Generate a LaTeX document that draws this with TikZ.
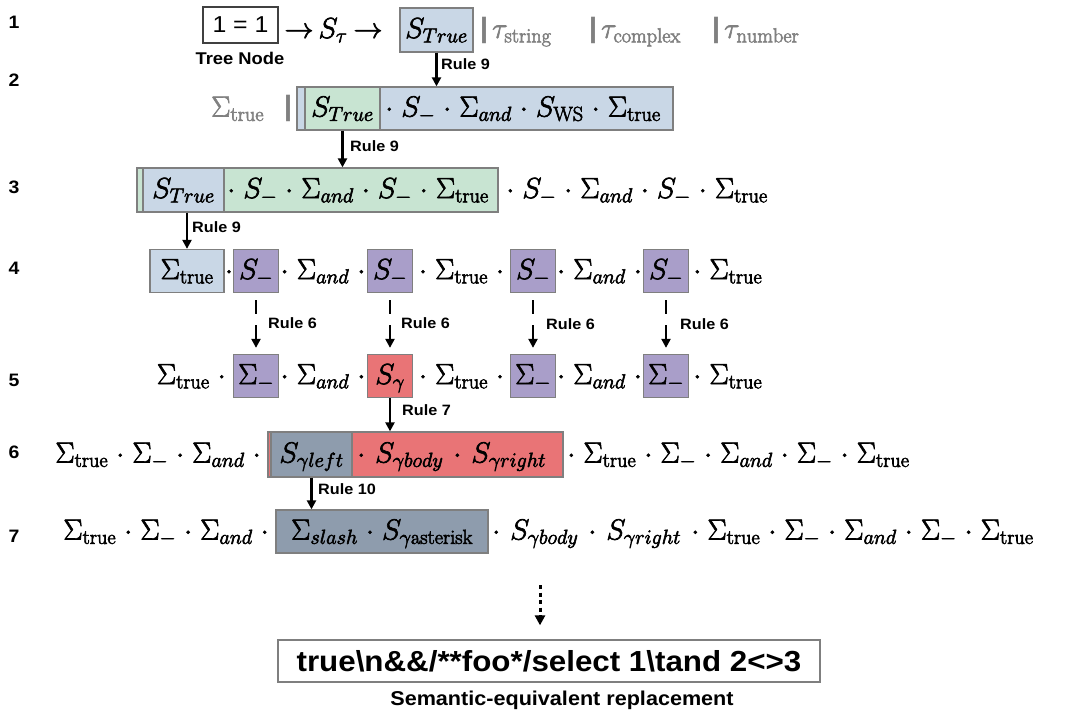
\documentclass[tikz,border=0pt]{standalone}
\usepackage{fix-cm}
\usepackage{fontspec}
\newfontfamily\lab[FakeStretch=1.08]{Liberation Sans}
\usetikzlibrary{arrows.meta}
\definecolor{cblue}{HTML}{C9D7E6}
\definecolor{cgreen}{HTML}{C8E4D2}
\definecolor{cpurple}{HTML}{A99EC9}
\definecolor{cred}{HTML}{E97476}
\definecolor{cslate}{HTML}{8E9CAD}
\definecolor{cborder}{HTML}{7F7F7F}
\definecolor{cgraytext}{HTML}{808080}
\newcommand\M{\fontsize{29}{32}\selectfont\medmuskip=5mu plus 2mu minus 4mu}
\newcommand\MW{\fontsize{29}{32}\selectfont\medmuskip=6.2mu plus 2mu minus 4mu}
\tikzset{
  mt/.style={inner sep=0pt, text height=20pt, text depth=4pt, font=\M,
    execute at begin node=\special{pdf:literal direct 2 Tr 0.6 w},
    execute at end node=\special{pdf:literal direct 0 Tr}},
  wide/.style={font=\MW},
  bx/.style={mt, draw=cborder, line width=1.3pt},
  rownum/.style={inner sep=0pt, font=\lab\bfseries\fontsize{18}{20}\selectfont},
  rulelbl/.style={inner sep=0pt, anchor=west, font=\lab\bfseries\fontsize{15}{17}\selectfont},
  gbar/.style={inner sep=0pt, text=cgraytext, font=\lab\bfseries\fontsize{28}{30}\selectfont},
  arr/.style={line width=2.2pt, -{Triangle[width=9pt,length=9pt]}},
  darr/.style={arr, dash pattern=on 14pt off 11pt, shorten <=7pt, shorten >=6pt},
  dotarr/.style={line width=3pt, dash pattern=on 4pt off 3.5pt, -{Triangle[width=10pt,length=10pt]}, shorten >=14pt},
}
\begin{document}
\begin{tikzpicture}[x=1pt,y=-1pt]
\useasboundingbox (0,0) rectangle (1066,720);

% row numbers
\foreach \n/\yy in {1/22,2/80,3/187,4/268,5/380,6/452,7/536}
  \node[rownum] (num\n) at (14,\yy) {\n};

% ---------- row 1 ----------
\node[draw=black!75, line width=1.3pt, fill=white, minimum width=75pt, minimum height=36pt, inner sep=0pt,
      font=\lab\fontsize{23}{26}\selectfont] (eq) at (240.5,25) {1 = 1};
\node[inner sep=0pt, font=\lab\bfseries\fontsize{17}{19}\selectfont] (tn) at (240,58) {Tree Node};
\node[mt] (a1) at (299,30) {$\rightarrow$};
\node[mt] (st) at (333,30) {$S_\tau$};
\node[mt] (a2) at (368,30) {$\rightarrow$};
\node[bx, fill=cblue, minimum width=73pt, minimum height=44pt] (b1) at (436.5,30) {$S_{True}$};
\node[gbar] (g11) at (484,30) {|};
\node[mt, text=cgraytext, anchor=west] (ts) at (492,30) {$\tau_{\mathrm{string}}$};
\node[gbar] (g12) at (593,30) {|};
\node[mt, text=cgraytext, anchor=west] (tc) at (601,30) {$\tau_{\mathrm{complex}}$};
\node[gbar] (g13) at (716,30) {|};
\node[mt, text=cgraytext, anchor=west] (tnum) at (724,30) {$\tau_{\mathrm{number}}$};

% ---------- row 2 ----------
\node[mt, text=cgraytext, anchor=west] (s2) at (211,108.5) {$\Sigma_{\mathrm{true}}$};
\node[gbar] (g2) at (288,108.5) {|};
\node[bx, fill=cblue, minimum width=376pt, minimum height=43pt] (o2) at (485,108.5) {};
\node[bx, fill=cgreen, minimum width=75pt, minimum height=43pt] (i2) at (342.5,108.5) {$S_{True}$};
\node[mt, anchor=west] (t2) at (377,108.5) {${}\cdot S_{-} \cdot \Sigma_{and} \cdot S_{\mathrm{WS}} \cdot \Sigma_{\mathrm{true}}$};

% ---------- row 3 ----------
\node[bx, fill=cgreen, minimum width=361pt, minimum height=44pt] (o3) at (317.5,190) {};
\node[bx, fill=cblue, minimum width=81pt, minimum height=44pt] (i3) at (183.5,190) {$S_{True}$};
\node[mt, anchor=west] (t3a) at (219,190) {${}\cdot S_{-} \cdot \Sigma_{and} \cdot S_{-} \cdot \Sigma_{\mathrm{true}}$};
\node[mt, anchor=west] (t3b) at (498,190) {${}\cdot S_{-} \cdot \Sigma_{and} \cdot S_{-} \cdot \Sigma_{\mathrm{true}}$};

% ---------- row 4 ----------
\node[bx, fill=cblue, minimum width=74pt, minimum height=43pt] (b4) at (187,271) {$\Sigma_{\mathrm{true}}$};
\node[mt] (d41) at (229,271) {$\cdot$};
\node[bx, fill=cpurple, minimum width=45pt, minimum height=43pt] (p41) at (256,271) {$S_{-}$};
\node[mt] (d42) at (323,271) {${}\cdot \Sigma_{and} \cdot{}$};
\node[bx, fill=cpurple, minimum width=45pt, minimum height=43pt] (p42) at (390,271) {$S_{-}$};
\node[mt] (d43) at (461.5,271) {${}\cdot \Sigma_{\mathrm{true}} \cdot{}$};
\node[bx, fill=cpurple, minimum width=45pt, minimum height=43pt] (p43) at (533,271) {$S_{-}$};
\node[mt] (d44) at (599.5,271) {${}\cdot \Sigma_{and} \cdot{}$};
\node[bx, fill=cpurple, minimum width=45pt, minimum height=43pt] (p44) at (666,271) {$S_{-}$};
\node[mt, anchor=west] (d45) at (685,271) {${}\cdot \Sigma_{\mathrm{true}}$};

% ---------- row 5 ----------
\node[mt, anchor=east] (s5) at (234,376) {$\Sigma_{\mathrm{true}} \cdot{}$};
\node[bx, fill=cpurple, minimum width=45pt, minimum height=43pt] (p51) at (256,376) {$\Sigma_{-}$};
\node[mt] (d52) at (323,376) {${}\cdot \Sigma_{and} \cdot{}$};
\node[bx, fill=cred, minimum width=45pt, minimum height=43pt] (r5) at (390,376) {$S_{\gamma}$};
\node[mt] (d53) at (461.5,376) {${}\cdot \Sigma_{\mathrm{true}} \cdot{}$};
\node[bx, fill=cpurple, minimum width=45pt, minimum height=43pt] (p53) at (533,376) {$\Sigma_{-}$};
\node[mt] (d54) at (599.5,376) {${}\cdot \Sigma_{and} \cdot{}$};
\node[bx, fill=cpurple, minimum width=45pt, minimum height=43pt] (p54) at (666,376) {$\Sigma_{-}$};
\node[mt, anchor=west] (d55) at (685,376) {${}\cdot \Sigma_{\mathrm{true}}$};

% ---------- row 6 ----------
\node[mt, anchor=east] (t6a) at (269,454.5) {$\Sigma_{\mathrm{true}} \cdot \Sigma_{-} \cdot \Sigma_{and} \cdot{}$};
\node[bx, fill=cred, minimum width=295pt, minimum height=45pt] (o6) at (415.5,454.5) {};
\node[bx, fill=cslate, minimum width=81pt, minimum height=45pt] (i6) at (311.5,454.5) {$S_{\gamma left}$};
\node[mt, wide, anchor=west] (t6b) at (347,454.5) {${}\cdot S_{\gamma body} \cdot S_{\gamma right}$};
\node[mt, anchor=west] (t6c) at (559,454.5) {${}\cdot \Sigma_{\mathrm{true}} \cdot \Sigma_{-} \cdot \Sigma_{and} \cdot \Sigma_{-} \cdot \Sigma_{\mathrm{true}}$};

% ---------- row 7 ----------
\node[mt, anchor=east] (t7a) at (277,531.5) {$\Sigma_{\mathrm{true}} \cdot \Sigma_{-} \cdot \Sigma_{and} \cdot{}$};
\node[bx, fill=cslate, minimum width=212pt, minimum height=43pt] (b7) at (382,531.5) {$\Sigma_{slash} \cdot S_{\gamma \mathrm{asterisk}}$};
\node[mt, wide, anchor=west] (t7b) at (482,531.5) {${}\cdot S_{\gamma body} \cdot S_{\gamma right}$};
\node[mt, anchor=west] (t7c) at (683,531.5) {${}\cdot \Sigma_{\mathrm{true}} \cdot \Sigma_{-} \cdot \Sigma_{and} \cdot \Sigma_{-} \cdot \Sigma_{\mathrm{true}}$};

% ---------- final ----------
\node[draw=cborder, line width=1.3pt, fill=white, minimum width=542pt, minimum height=42pt, inner sep=0pt,
      font=\lab\bfseries\fontsize{29}{32}\selectfont] (fin) at (549,661)
      {true\textbackslash n\&\&/**foo*/select 1\textbackslash tand 2<>3};
\node[inner sep=0pt, font=\lab\bfseries\fontsize{20}{22}\selectfont] (cap) at (562,700) {Semantic-equivalent replacement};

% ---------- connectors ----------
\draw[arr] (b1.south) -- (b1.south |- o2.north);
\node[rulelbl] (r9a) at (441,64) {Rule 9};
\draw[arr] (i2.south) -- (i2.south |- o3.north);
\node[rulelbl] (r9b) at (350,146) {Rule 9};
\draw[arr] (b4.north |- i3.south) -- (b4.north);
\node[rulelbl] (r9c) at (192,227) {Rule 9};
\draw[darr] (p41.south) -- (p51.north);
\draw[darr] (p42.south) -- (r5.north);
\draw[darr] (p43.south) -- (p53.north);
\draw[darr] (p44.south) -- (p54.north);
\node[rulelbl] (r6a) at (268,323) {Rule 6};
\node[rulelbl] (r6b) at (401,323) {Rule 6};
\node[rulelbl] (r6c) at (546,324) {Rule 6};
\node[rulelbl] (r6d) at (680,324) {Rule 6};
\draw[arr] (r5.south) -- (r5.south |- o6.north);
\node[rulelbl] (r7) at (402,410) {Rule 7};
\draw[arr] (i6.south) -- (i6.south |- b7.north);
\node[rulelbl] (r10) at (318,489) {Rule 10};
\coordinate (ds) at (540,585);
\draw[dotarr] (ds) -- (ds |- fin.north);
\end{tikzpicture}
\end{document}
